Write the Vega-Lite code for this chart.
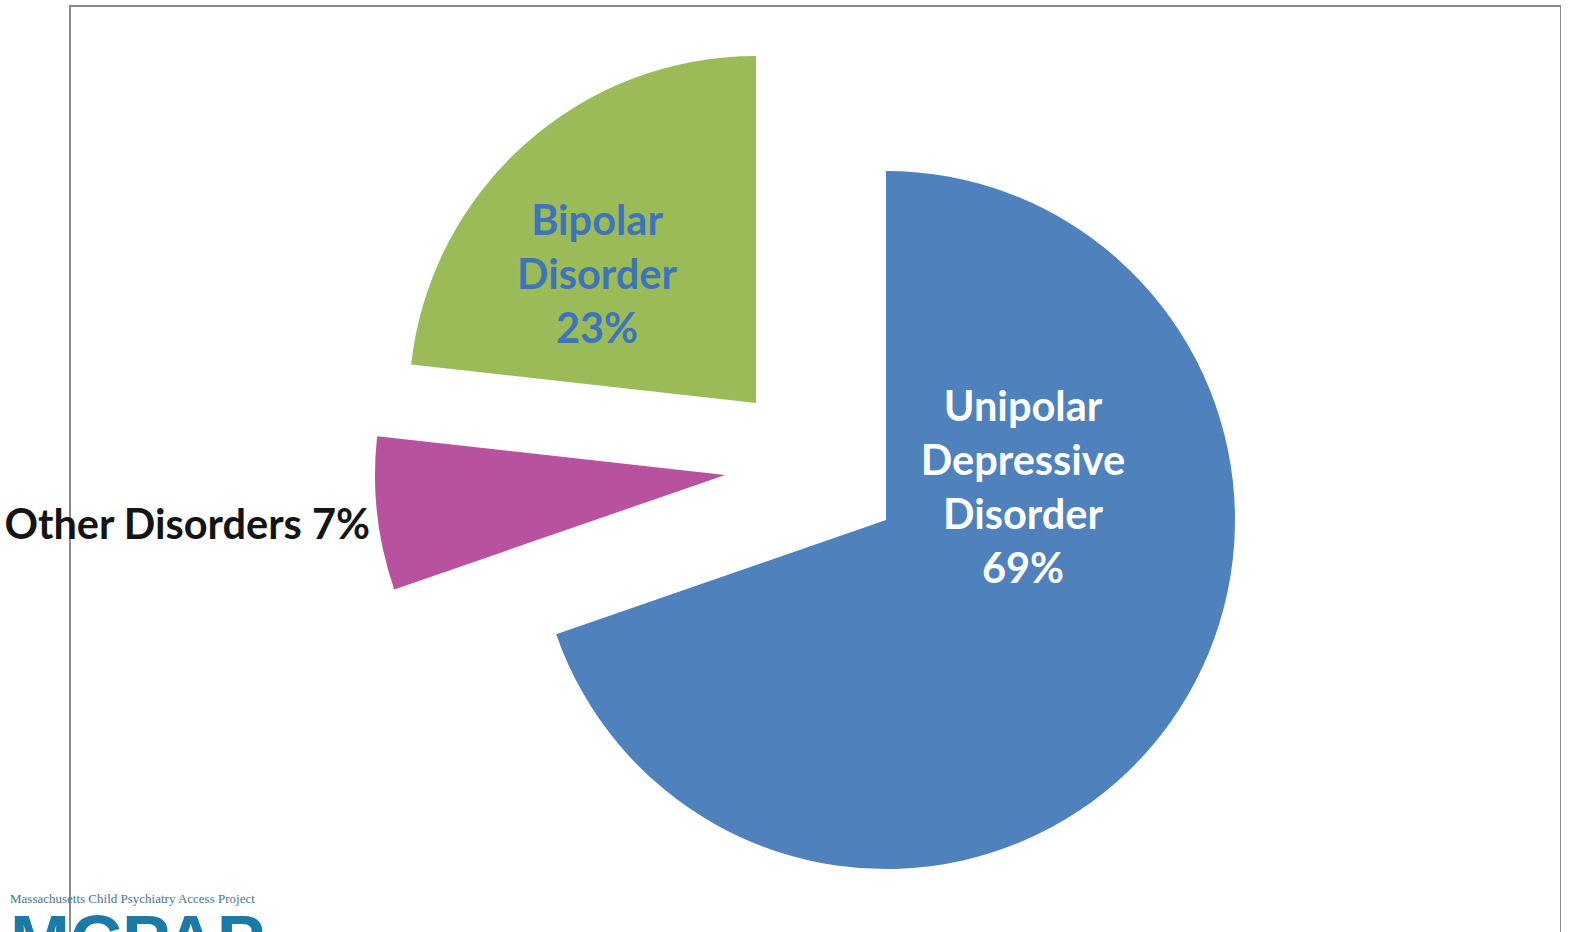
{
  "$schema": "https://vega.github.io/schema/vega-lite/v6.json",
  "width": 1491,
  "height": 1000,
  "autosize": {"type": "none"},
  "padding": {"left": 70, "top": 6, "right": 0, "bottom": 0},
  "background": "white",
  "view": {"stroke": "#8a8a8a", "strokeWidth": 2},
  "config": {"view": {"stroke": "#8a8a8a", "strokeWidth": 2}},
  "data": {
    "values": [
      {"disorder": "Unipolar Depressive Disorder", "pct": 69},
      {"disorder": "Other Disorders", "pct": 7},
      {"disorder": "Bipolar Disorder", "pct": 23}
    ]
  },
  "transform": [{"stack": "pct", "groupby": [], "as": ["p0", "p1"]}],
  "layer": [
    {
      "transform": [{"filter": "datum.disorder === 'Unipolar Depressive Disorder'"}],
      "mark": {"type": "arc", "x": 816, "y": 514, "outerRadius": 349},
      "encoding": {
        "theta": {"field": "p0", "type": "quantitative", "stack": null, "scale": {"domain": [0, 99], "range": [0, 6.283185307]}},
        "theta2": {"field": "p1"},
        "color": {"field": "disorder", "type": "nominal", "legend": null,
          "scale": {"domain": ["Unipolar Depressive Disorder", "Other Disorders", "Bipolar Disorder"], "range": ["#4f81bd", "#b8519e", "#9bbb59"]}}
      }
    },
    {
      "transform": [{"filter": "datum.disorder === 'Other Disorders'"}],
      "mark": {"type": "arc", "x": 816, "y": 514, "xOffset": -161, "yOffset": -45, "outerRadius": 350},
      "encoding": {
        "theta": {"field": "p0", "type": "quantitative", "stack": null},
        "theta2": {"field": "p1"},
        "color": {"field": "disorder", "type": "nominal", "legend": null}
      }
    },
    {
      "transform": [{"filter": "datum.disorder === 'Bipolar Disorder'"}],
      "mark": {"type": "arc", "x": 816, "y": 514, "xOffset": -130, "yOffset": -117, "outerRadius": 347},
      "encoding": {
        "theta": {"field": "p0", "type": "quantitative", "stack": null},
        "theta2": {"field": "p1"},
        "color": {"field": "disorder", "type": "nominal", "legend": null}
      }
    },
    {
      "transform": [
        {"filter": "datum.disorder === 'Unipolar Depressive Disorder'"},
        {"calculate": "split(datum.disorder + ' ' + datum.pct + '%', ' ')", "as": "caption"}
      ],
      "mark": {"type": "text", "x": 953, "y": 415, "align": "center", "baseline": "alphabetic", "lineHeight": 54,
        "font": "Lato", "fontWeight": "bold", "fontSize": 41.5, "color": "#ffffff"},
      "encoding": {"text": {"field": "caption"}}
    },
    {
      "transform": [
        {"filter": "datum.disorder === 'Bipolar Disorder'"},
        {"calculate": "split(datum.disorder + ' ' + datum.pct + '%', ' ')", "as": "caption"}
      ],
      "mark": {"type": "text", "x": 527, "y": 229, "align": "center", "baseline": "alphabetic", "lineHeight": 54,
        "font": "Lato", "fontWeight": "bold", "fontSize": 41.5, "color": "#3d74ba"},
      "encoding": {"text": {"field": "caption"}}
    },
    {
      "transform": [
        {"filter": "datum.disorder === 'Other Disorders'"},
        {"calculate": "datum.disorder + ' ' + datum.pct + '%'", "as": "caption"}
      ],
      "mark": {"type": "text", "x": 300, "y": 533, "align": "right", "baseline": "alphabetic",
        "font": "Lato", "fontWeight": "bold", "fontSize": 41.5, "color": "#141414"},
      "encoding": {"text": {"field": "caption"}}
    },
    {
      "data": {"values": [{"org": "Massachusetts Child Psychiatry Access Project", "abbr": "MCPAP"}]},
      "mark": {"type": "text", "x": -60, "y": 897, "align": "left", "baseline": "alphabetic",
        "font": "Liberation Serif", "fontSize": 13, "color": "#4a7590"},
      "encoding": {"text": {"field": "org"}}
    },
    {
      "data": {"values": [{"org": "Massachusetts Child Psychiatry Access Project", "abbr": "MCPAP"}]},
      "mark": {"type": "text", "x": -60, "y": 960, "align": "left", "baseline": "alphabetic",
        "font": "Liberation Sans", "fontWeight": "bold", "fontSize": 72, "color": "#1b7ba6"},
      "encoding": {"text": {"field": "abbr"}}
    }
  ]
}
